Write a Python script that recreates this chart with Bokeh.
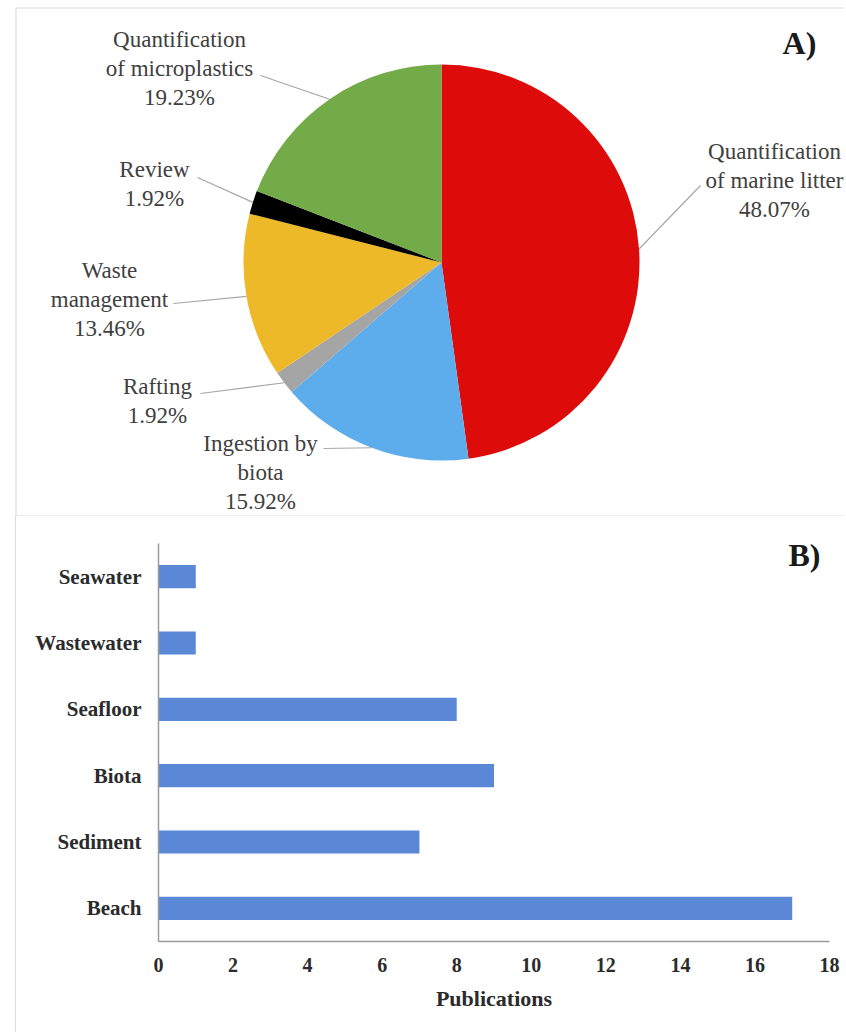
import numpy as np
from bokeh.plotting import figure
from bokeh.models import Range1d, FactorRange, ColumnDataSource, Label, FixedTicker
from bokeh.layouts import column
from bokeh.embed import file_html
from bokeh.resources import INLINE
from bokeh.core.properties import value

# ---------------- data ----------------
pie_categories = ["Quantification\nof marine litter", "Ingestion by\nbiota", "Rafting",
                  "Waste\nmanagement", "Review", "Quantification\nof microplastics"]
pie_percent = [48.07, 15.92, 1.92, 13.46, 1.92, 19.23]
pie_colors = ["#DE0B0B", "#5DADEC", "#A5A5A5", "#EEB929", "#000000", "#72AB48"]

bar_categories = ["Beach", "Sediment", "Biota", "Seafloor", "Wastewater", "Seawater"]
bar_values = [17, 7, 9, 8, 1, 1]
x_ticks = [0, 2, 4, 6, 8, 10, 12, 14, 16, 18]

# ---------------- layout (page pixels) ----------------
W, H1, H2 = 844, 516, 516
CX, CY, R = 441, 262, 198
label_pos = [(774, 180), (260, 472), (157, 400), (109, 299), (154, 183), (179, 68)]
leader_start = [(700, 185), (323, 448), (200, 393), (173, 303), (197, 177), (260, 75)]
SERIF = "Liberation Serif"
BORDER = "#D9D9D9"

# ---------------- pie panel ----------------
p1 = figure(width=W, height=H1, output_backend="svg", toolbar_location=None,
            x_range=Range1d(0, W), y_range=Range1d(-H1, 0),
            x_axis_location=None, y_axis_location=None,
            min_border_left=0, min_border_right=0, min_border_top=0, min_border_bottom=0,
            outline_line_color=None, background_fill_color="white",
            border_fill_color="white")
p1.frame_align = False
p1.grid.visible = False

# panel frame lines (left, top, bottom divider)
p1.segment(x0=[15.5, 15.5, 15.5], y0=[-7.5, -7.5, -515.5],
           x1=[15.5, W, W], y1=[-H1, -7.5, -515.5], line_color=BORDER, line_width=1)

vals = np.array(pie_percent, dtype=float)
frac = vals / vals.sum()
cum_after = np.cumsum(frac)
cum_before = cum_after - frac
start = np.pi / 2 - 2 * np.pi * cum_before
end = np.pi / 2 - 2 * np.pi * cum_after
mid = 2 * np.pi * (cum_before + frac / 2)  # clockwise from top

wsrc = ColumnDataSource(dict(start=start, end=end, color=pie_colors))
p1.wedge(x=CX, y=-CY, radius=R, start_angle="start", end_angle="end",
         direction="clock", fill_color="color", line_color=None, source=wsrc)

# leader lines: from label to the slice edge at its mid angle
ex = CX + R * np.sin(mid)
ey = -(CY - R * np.cos(mid))
p1.segment(x0=[s[0] for s in leader_start], y0=[-s[1] for s in leader_start],
           x1=ex, y1=ey, line_color="#A6A6A6", line_width=1.2)

labels = [f"{c}\n{v:.2f}%" for c, v in zip(pie_categories, pie_percent)]
p1.text(x=[q[0] for q in label_pos], y=[-q[1] for q in label_pos], text=labels,
        text_font=value(SERIF), text_font_size="23px", text_align="center",
        text_baseline="middle", text_line_height=1.16, text_color="#404040")

p1.add_layout(Label(x=799, y=-42, text="A)", text_font=SERIF, text_font_size="32px",
                    text_font_style="bold", text_align="center",
                    text_baseline="middle", text_color="#1A1A1A"))

# ---------------- bar panel ----------------
p2 = figure(width=W, height=H2, output_backend="svg", toolbar_location=None,
            y_range=FactorRange(factors=bar_categories, range_padding=0),
            x_range=Range1d(0, 18),
            min_border_left=158, min_border_right=W - 829, min_border_top=27,
            min_border_bottom=H2 - 425, outline_line_color=None,
            background_fill_color="white", border_fill_color=None)
p2.frame_align = False
p2.styles = {"background": "linear-gradient(to right, transparent 15px, #D9D9D9 15px, "
                           "#D9D9D9 16px, white 16px)"}
p2.hbar(y=bar_categories, right=bar_values, left=0, height=0.35,
        fill_color="#5B88D6", line_color=None)
p2.grid.visible = False

p2.xaxis.ticker = FixedTicker(ticks=x_ticks)
p2.xaxis.axis_label = "Publications"
for ax in (p2.xaxis, p2.yaxis):
    ax.axis_line_color = "#9A9A9A"
    ax.axis_line_width = 1.5
    ax.major_tick_line_color = None
    ax.minor_tick_line_color = None
    ax.major_tick_out = 0
    ax.major_label_text_font = SERIF
    ax.major_label_text_font_style = "bold"
    ax.major_label_text_color = "#2B2B2B"
p2.xaxis.major_label_text_font_size = "20px"
p2.yaxis.major_label_text_font_size = "21px"
p2.xaxis.major_label_standoff = 16
p2.yaxis.major_label_standoff = 17
p2.xaxis.axis_label_text_font = SERIF
p2.xaxis.axis_label_text_font_size = "22px"
p2.xaxis.axis_label_text_font_style = "bold"
p2.xaxis.axis_label_text_color = "#2B2B2B"
p2.xaxis.axis_label_standoff = 11

p2.add_layout(Label(x=17.33, y=5.82, text="B)", text_font=SERIF, text_font_size="32px",
                    text_font_style="bold", text_align="center",
                    text_baseline="middle", text_color="#1A1A1A"))

layout = column(p1, p2)
open("out.html", "w").write(file_html(layout, INLINE))
